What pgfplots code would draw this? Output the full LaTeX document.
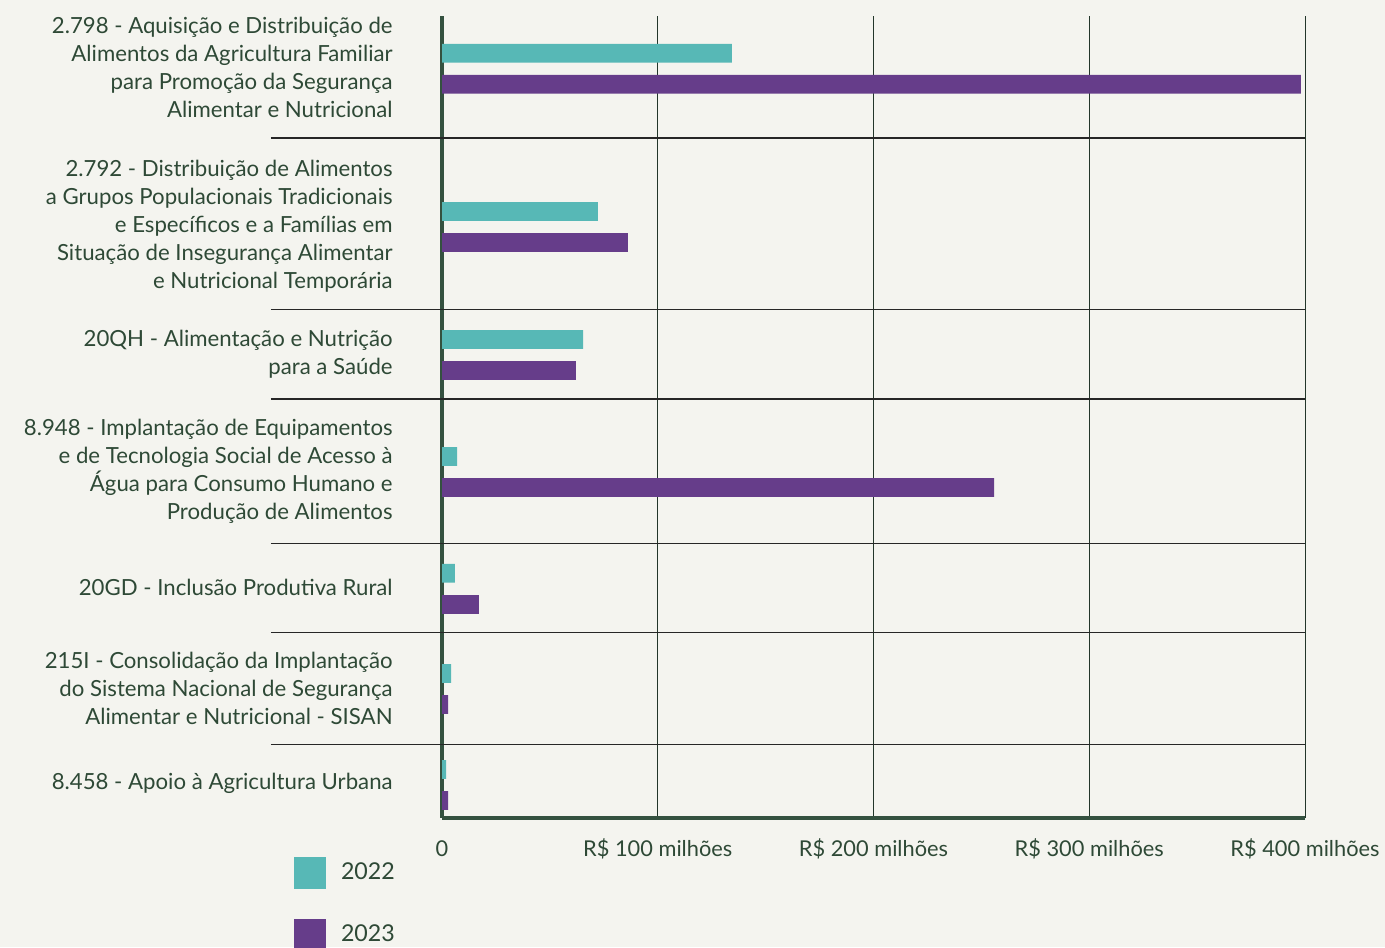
\documentclass[border=0pt]{standalone}
\usepackage{pgfplots}
\pgfplotsset{compat=1.18}
\usepackage{fontspec}
\setmainfont{Lato}
\definecolor{bg}{HTML}{F4F4EF}
\definecolor{teal22}{HTML}{57B8B6}
\definecolor{purp23}{HTML}{663D8A}
\definecolor{txt}{HTML}{2E4936}
\definecolor{axl}{HTML}{34513F}
\definecolor{grd}{HTML}{23362A}
\newcommand{\lbl}{\fontsize{11.1pt}{14pt}\selectfont}
\newcommand{\tkl}{\fontsize{10.9pt}{13pt}\selectfont}
\newcommand{\lgf}{\fontsize{11.6pt}{14pt}\selectfont}
\begin{document}
\begin{tikzpicture}[x=0.5pt,y=-0.5pt]
\useasboundingbox[fill=bg] (0,0) rectangle (1385,947);
\begin{axis}[
  at={(221pt,-409pt)}, anchor=south west,
  scale only axis, width=431.5pt, height=401pt,
  xmin=0, xmax=400, ymin=0, ymax=802, y dir=reverse,
  clip=false,
  axis x line*=bottom, axis y line*=left,
  axis line style={-, draw=axl, line width=1.6pt},
  xtick={0,100,200,300,400},
  xticklabels={0,R\$ 100 milhões,R\$ 200 milhões,R\$ 300 milhões,R\$ 400 milhões},
  ytick=\empty,
  major tick length=0pt,
  xmajorgrids, grid style={draw=grd, line width=0.5pt},
  xticklabel style={anchor=center, yshift=-15.5pt, font=\tkl, text=txt},
  xbar, bar width=18.7, bar shift=0pt,
  legend image code/.code={\draw[#1,draw=none] (0pt,-8pt) rectangle (16pt,8pt);},
  legend style={at={(-0.1715,-0.0486)}, anchor=north west, draw=none, fill=none,
    inner sep=0pt, outer sep=0pt, font=\lgf, text=txt, row sep=15pt,
    /tikz/every odd column/.append style={column sep=7.5pt},
    nodes={inner sep=0pt}},
  legend cell align=left,
]
\addplot[fill=teal22, draw=none] coordinates {
  (134.4,37.3) (72.3,195.5) (65.4,323.5) (7.0,440.5) (6.0,557.3) (4.2,657.5) (1.9,753.5)};
\addlegendentry{2022}
\addplot[fill=purp23, draw=none] coordinates {
  (398.1,68.3) (86.2,226.5) (62.1,354.5) (255.9,471.5) (17.1,588.5) (2.8,688.5) (2.8,784.5)};
\addlegendentry{2023}
\foreach \s in {122,293.3,383,527.3,616.3,728.3}{
  \edef\tmp{\noexpand\draw[black!85, line width=0.6pt] (axis cs:-79.3,\s) -- (axis cs:400,\s);}
  \tmp
}
\end{axis}
\begin{scope}[every node/.style={anchor=east, align=right, inner sep=0pt, text=txt, font=\lbl}]
\node at (393,67.5) {2.798 - Aquisição e Distribuição de\\Alimentos da Agricultura Familiar\\para Promoção da Segurança\\Alimentar e Nutricional};
\node at (393,226) {2.792 - Distribuição de Alimentos\\a Grupos Populacionais Tradicionais\\e Específicos e a Famílias em\\Situação de Insegurança Alimentar\\e Nutricional Temporária};
\node at (393,354.5) {20QH - Alimentação e Nutrição\\para a Saúde};
\node at (393,471) {8.948 - Implantação de Equipamentos\\e de Tecnologia Social de Acesso à\\Água para Consumo Humano e\\Produção de Alimentos};
\node at (393,587.5) {20GD - Inclusão Produtiva Rural};
\node at (393,688) {215I - Consolidação da Implantação\\do Sistema Nacional de Segurança\\Alimentar e Nutricional - SISAN};
\node at (393,783.5) {8.458 - Apoio à Agricultura Urbana};
\end{scope}
\end{tikzpicture}
\end{document}
